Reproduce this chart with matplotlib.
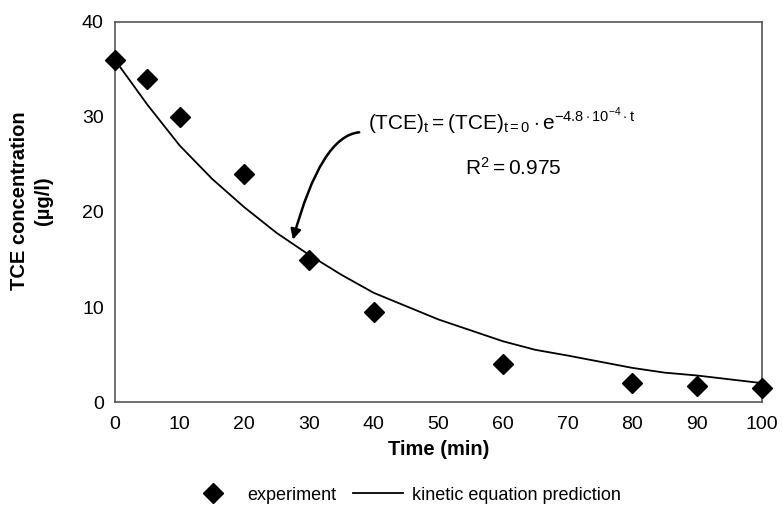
import numpy as np
import matplotlib
matplotlib.use("Agg")
import matplotlib.pyplot as plt

plt.rcParams['font.family'] = ['Liberation Sans', 'DejaVu Sans']
plt.rcParams['mathtext.fontset'] = 'custom'
plt.rcParams['mathtext.rm'] = 'Liberation Sans'
plt.rcParams['mathtext.it'] = 'Liberation Sans'

# experiment points
t_exp = [0, 5, 10, 20, 30, 40, 60, 80, 90, 100]
c_exp = [36, 34, 30, 24, 15, 9.5, 4, 2, 1.7, 1.5]

# kinetic equation prediction
t_fit = [0, 5, 10, 15, 20, 25, 30, 35, 40, 50, 60, 65, 70, 80, 85, 90, 100]
c_fit = [36, 31.3, 27, 23.5, 20.5, 17.8, 15.5, 13.4, 11.5, 8.7, 6.4, 5.5, 4.9, 3.6, 3.1, 2.8, 2.0]

xticks = list(range(0, 101, 10))
yticks = [0, 10, 20, 30, 40]

fig = plt.figure(figsize=(7.82, 5.09), dpi=100)
ax = fig.add_axes([0.147, 0.21, 0.827, 0.747])

ax.plot(t_fit, c_fit, color='black', lw=1.3, label='kinetic equation prediction', zorder=2)
ax.plot(t_exp, c_exp, 'D', color='black', ms=10, label='experiment', zorder=3, clip_on=False)

ax.set_xlim(0, 100)
ax.set_ylim(0, 40)
ax.set_xticks(xticks)
ax.set_yticks(yticks)
ax.tick_params(length=0, labelsize=14)
ax.tick_params(axis='x', pad=10)
ax.tick_params(axis='y', pad=8)
for s in ax.spines.values():
    s.set_color('#555555')
    s.set_linewidth(1.2)

ax.set_xlabel('Time (min)', fontsize=14.5, fontweight='bold', labelpad=5)
ax.set_ylabel('TCE concentration\n(µg/l)', fontsize=14.5, fontweight='bold', linespacing=1.3)
ax.yaxis.set_label_coords(-0.096, 0.53)

# equation annotation
ax.text(39.1, 28.6, r'$\mathrm{(TCE)_t = (TCE)_{t=0}\cdot e^{-4.8\cdot 10^{-4}\cdot t}}$',
        fontsize=15, va='baseline', ha='left')
ax.text(54.1, 23.9, r'$\mathrm{R^2 = 0.975}$', fontsize=15, va='baseline', ha='left')
ax.annotate('', xy=(27.4, 16.8), xytext=(38.2, 28.4),
            arrowprops=dict(arrowstyle='-|>', color='black', lw=1.8,
                            connectionstyle='angle3,angleA=0,angleB=75', mutation_scale=15))

h, l = ax.get_legend_handles_labels()
fig.legend([h[1], h[0]], [l[1], l[0]], loc='center', ncol=2, frameon=False,
           fontsize=13, bbox_to_anchor=(0.517, 0.027), handlelength=2.8,
           handletextpad=0.5, columnspacing=0.9)

fig.savefig('out.png', dpi=100)
